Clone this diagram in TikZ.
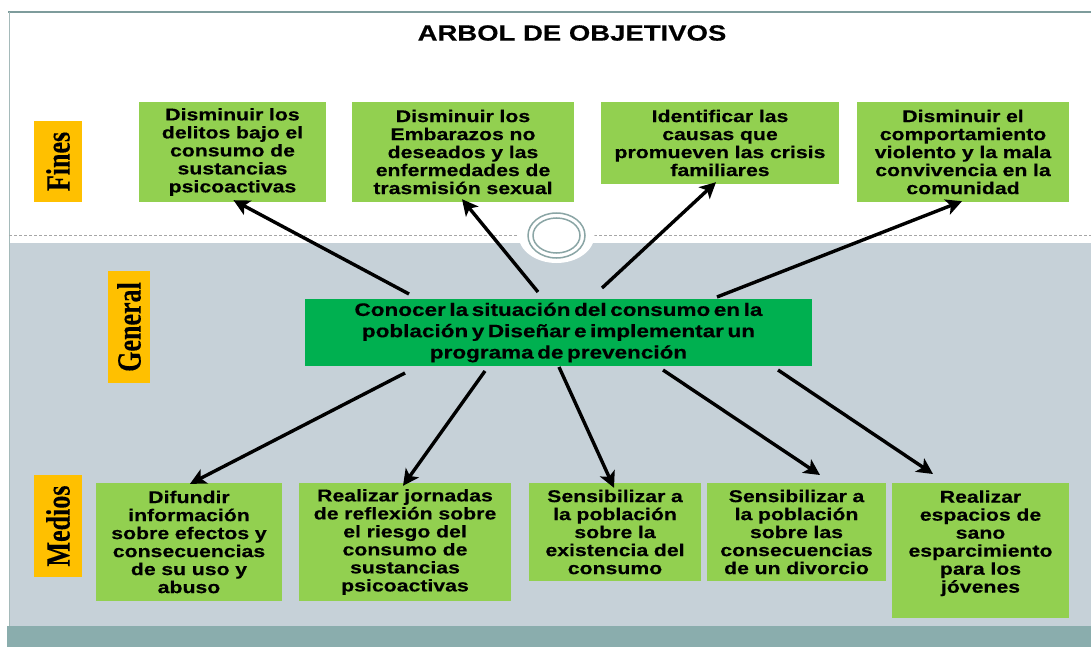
\documentclass[tikz,border=0pt]{standalone}
\usepackage{fontspec}
\usetikzlibrary{arrows.meta,calc}
\newfontfamily\boxfont{Liberation Sans}[FakeStretch=1.25,FakeBold=0.4]
\newfontfamily\labfont{Liberation Serif}[FakeBold=0.3]
\definecolor{lgreen}{HTML}{92D050}
\definecolor{dgreen}{HTML}{00B050}
\definecolor{lorange}{HTML}{FFC000}
\definecolor{bggray}{HTML}{C6D1D8}
\definecolor{barteal}{HTML}{8AADAD}
\definecolor{framecol}{HTML}{7E9C9C}
\definecolor{ringcol}{HTML}{8AA5A5}
\newcommand{\tightsp}{\spaceskip=0.2em\relax}
\begin{document}
\begin{tikzpicture}[x=1pt,y=-1pt,
  box/.style={fill=lgreen, inner xsep=2pt, inner ysep=0pt, align=center,
    font=\boxfont\bfseries\fontsize{17}{18}\selectfont},
  genbox/.style={fill=dgreen, inner sep=0pt, align=center,
    font=\boxfont\bfseries\fontsize{18}{21.3}\selectfont},
  lab/.style={fill=lorange, inner sep=0pt, rotate=90,
    font=\labfont\bfseries\fontsize{26}{30}\selectfont},
  arr/.style={-{Stealth[length=16pt,width=16pt,inset=4pt]}, line width=3.4pt, black},
  titlestyle/.style={font=\boxfont\bfseries\fontsize{22}{26}\selectfont, inner sep=0pt}
]
\useasboundingbox (0,0) rectangle (1091,647);
\fill[white] (0,0) rectangle (1091,647);
\fill[bggray] (9,243) rectangle (1091,626);
\fill[barteal] (7,626) rectangle (1091,647);
\draw[framecol, line width=1.5pt] (8,12) -- (1091,12);
\draw[framecol!70, line width=0.8pt] (9,12) -- (9,626);
\draw[gray!70, line width=0.7pt, dash pattern=on 3pt off 2pt] (9,235) -- (1091,235);
\fill[white] (556.5,235) ellipse [x radius=38, y radius=28];
\draw[ringcol, line width=1.5pt] (556.5,235.5) ellipse [x radius=28.5, y radius=22.5];
\draw[ringcol, line width=1.5pt] (556.5,235.5) ellipse [x radius=23.5, y radius=17.5];

\node[titlestyle] (title) at (572,33) {ARBOL DE OBJETIVOS};

% side labels
\node[lab, minimum width=81pt, minimum height=48pt] (lfines) at (58,161.5) {\scalebox{1}[1.3]{Fines}};
\node[lab, minimum width=112pt, minimum height=42pt] (lgeneral) at (129,327) {\scalebox{1}[1.3]{General}};
\node[lab, minimum width=102pt, minimum height=48pt] (lmedios) at (58,526) {\scalebox{1}[1.3]{Medios}};

% fines
\node[box, text width=183pt, minimum height=100pt] (f1) at (232.5,152)
  {Disminuir los\\delitos bajo el\\consumo de\\sustancias\\psicoactivas};
\node[box, text width=218pt, minimum height=100pt] (f2) at (463,152)
  {Disminuir los\\Embarazos no\\deseados y las\\enfermedades de\\trasmisión sexual};
\node[box, text width=234pt, minimum height=82pt] (f3) at (720,143)
  {Identificar las\\causas que\\promueven las crisis\\familiares};
\node[box, text width=208pt, minimum height=100pt] (f4) at (963,152)
  {Disminuir el\\comportamiento\\violento y la mala\\convivencia en la\\comunidad};

% general
\node[genbox, text width=507pt, minimum height=67pt] (gen) at (558.5,332.5)
  {\tightsp Conocer la situación del consumo en la\\\tightsp población y Diseñar e implementar un\\\tightsp programa de prevención};

% medios
\node[box, text width=182pt, minimum height=118pt] (m1) at (189,542)
  {Difundir\\información\\sobre efectos y\\consecuencias\\de su uso y\\abuso};
\node[box, text width=208pt, minimum height=118pt] (m2) at (405,542)
  {Realizar jornadas\\de reflexión sobre\\el riesgo del\\consumo de\\sustancias\\psicoactivas};
\node[box, text width=168pt, minimum height=98pt] (m3) at (615,532)
  {Sensibilizar a\\la población\\sobre la\\existencia del\\consumo};
\node[box, text width=175pt, minimum height=98pt] (m4) at (796.5,532)
  {Sensibilizar a\\la población\\sobre las\\consecuencias\\de un divorcio};
\node[box, text width=173pt, minimum height=135pt] (m5) at (980.5,550.5)
  {Realizar\\espacios de\\sano\\esparcimiento\\para los\\jóvenes\\\rule{0pt}{12pt}};

% arrow start / end points
\coordinate (s1) at (409,294);
\coordinate (s2) at (538,292);
\coordinate (s3) at (602,288);
\coordinate (s4) at (717,297);
\coordinate (b1) at (405,373);
\coordinate (b2) at (485,371);
\coordinate (b3) at (559,367);
\coordinate (b4) at (663,370);
\coordinate (b5) at (778,370);
\coordinate (t4) at (820,475);
\coordinate (t5) at (933,474);

\draw[arr] (s1) -- ($(f1.south)+(1,-2)$);
\draw[arr] (s2) -- ($(f2.south)+(-1,-3)$);
\draw[arr] (s3) -- ($(f3.south)+(-4,-2)$);
\draw[arr] (s4) -- ($(f4.south)+(-1,-1)$);

\draw[arr] (b1) -- ($(m1.north)+(1,1)$);
\draw[arr] (b2) -- ($(m2.north)+(-2,3)$);
\draw[arr] (b3) -- ($(m3.north)+(-1,5)$);
\draw[arr] (b4) -- (t4);
\draw[arr] (b5) -- (t5);
\end{tikzpicture}
\end{document}
